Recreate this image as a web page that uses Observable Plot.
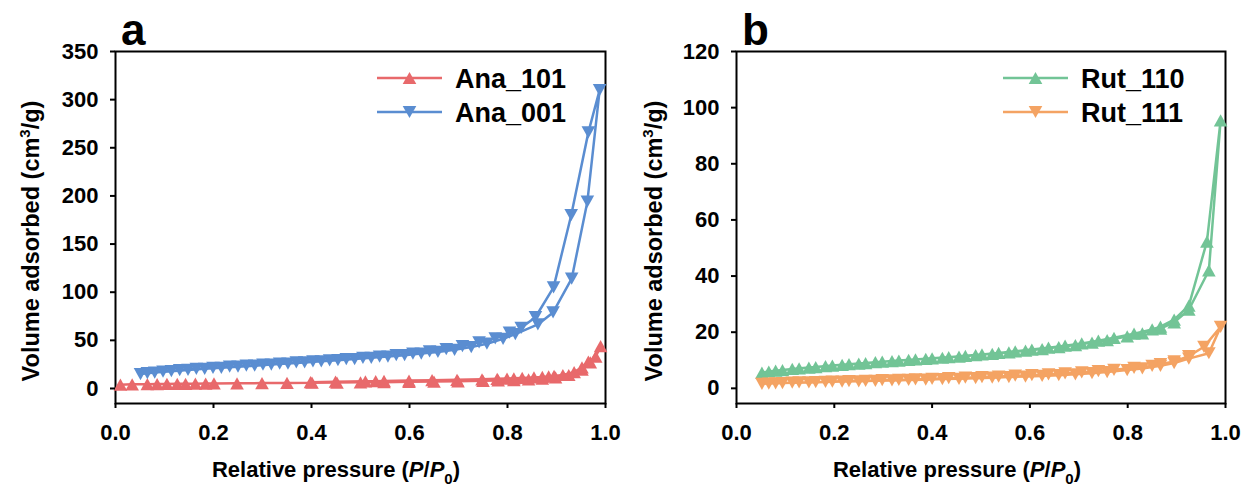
<!DOCTYPE html>
<html><head><meta charset="utf-8">
<script src="https://cdn.jsdelivr.net/npm/d3@7"></script>
<script src="https://cdn.jsdelivr.net/npm/@observablehq/plot@0.6"></script>
<style>
html,body{margin:0;padding:0;background:#fff;}
#wrap{display:flex;width:1247px;height:497px;overflow:hidden;}
svg{display:block;}
</style></head><body><div id="wrap"></div>
<script>
// ---- tick labels ----
const xTicks = [0, 0.2, 0.4, 0.6, 0.8, 1.0];
const yTicksA = [0, 50, 100, 150, 200, 250, 300, 350];
const yTicksB = [0, 20, 40, 60, 80, 100, 120];

// ---- series names / colours ----
const namesA = ["Ana_101", "Ana_001"];
const namesB = ["Rut_110", "Rut_111"];
const colorsA = ["#E8696B", "#5A8DD1"];
const colorsB = ["#72C496", "#F4A363"];

// ---- Ana_101 (adsorption, desorption) ----
const ana101_adsP = [0.010,0.034,0.065,0.085,0.105,0.126,0.143,0.163,0.184,0.201,0.248,0.299,0.350,0.401,0.452,0.500,0.548,0.599,0.650,0.699,0.750,0.781,0.813,0.843,0.871,0.898,0.925,0.952,0.969,0.990];
const ana101_adsV = [4.0,4.3,4.5,4.6,4.7,4.8,4.9,5.0,5.1,5.2,5.4,5.6,5.8,6.0,6.2,6.4,6.6,6.9,7.2,7.5,7.9,8.3,8.8,9.4,10.2,11.5,14.0,19.5,27.0,44.0];
const ana101_desP = [0.980,0.965,0.952,0.936,0.913,0.895,0.884,0.871,0.854,0.830,0.813,0.799,0.779,0.748,0.697,0.646,0.599,0.548,0.531,0.510,0.449,0.398];
const ana101_desV = [33,28,22,17,14,13,12.5,12,11.5,11,10.6,10.3,10,9.5,9.0,8.6,8.2,7.8,7.6,7.4,7.0,6.6];

// ---- Ana_001 ----
const ana001_adsP = [0.051,0.080,0.114,0.148,0.182,0.216,0.250,0.284,0.318,0.352,0.386,0.420,0.454,0.488,0.522,0.556,0.590,0.624,0.658,0.692,0.726,0.758,0.791,0.816,0.862,0.893,0.931,0.963,0.988];
const ana001_adsV = [15.0,16.5,18.0,19.2,20.4,21.5,22.6,23.7,24.8,25.9,27.0,28.2,29.4,30.6,31.9,33.2,34.6,36.2,38.0,40.2,43.0,46.5,51.5,56.5,66.5,79.0,114.0,194.0,310.0];
const ana001_desP = [0.965,0.930,0.894,0.857,0.828,0.804,0.775,0.742,0.708,0.675,0.641,0.607,0.573,0.539,0.505,0.471,0.437,0.403,0.369,0.335,0.301,0.267,0.233,0.199,0.165,0.131,0.097,0.065];
const ana001_desV = [266,180,105,74,63,58,52,48,44,41,38.5,36.3,34.6,33.1,31.8,30.5,29.3,28.1,27.0,25.9,24.8,23.7,22.6,21.5,20.3,19.0,17.6,16.0];

// ---- Rut_110 ----
const rut110_adsP = [0.052,0.080,0.114,0.148,0.182,0.216,0.250,0.284,0.318,0.352,0.387,0.421,0.455,0.489,0.523,0.557,0.591,0.625,0.659,0.693,0.727,0.758,0.799,0.830,0.867,0.895,0.925,0.966,0.990];
const rut110_adsV = [5.6,6.3,6.9,7.4,7.9,8.4,8.8,9.3,9.7,10.1,10.5,10.9,11.3,11.8,12.3,12.8,13.4,14.0,14.7,15.4,16.3,17.2,18.5,19.6,21.3,23.5,28.0,42.0,95.5];
const rut110_desP = [0.962,0.925,0.895,0.867,0.850,0.813,0.772,0.740,0.706,0.672,0.638,0.604,0.570,0.536,0.502,0.468,0.434,0.400,0.366,0.332,0.298,0.264,0.230,0.196,0.162,0.128,0.094,0.066];
const rut110_desV = [52.3,29.5,24.5,22.0,21.0,19.5,18.0,17.0,16.0,15.2,14.5,13.8,13.2,12.6,12.1,11.6,11.1,10.7,10.3,9.9,9.5,9.0,8.6,8.1,7.6,7.1,6.5,6.0];

// ---- Rut_111 ----
const rut111_adsP = [0.052,0.080,0.114,0.148,0.182,0.216,0.250,0.284,0.318,0.352,0.387,0.421,0.455,0.489,0.523,0.557,0.591,0.625,0.659,0.693,0.727,0.758,0.799,0.830,0.867,0.895,0.925,0.966,0.990];
const rut111_adsV = [1.6,1.8,2.0,2.1,2.3,2.4,2.5,2.7,2.8,3.0,3.1,3.3,3.4,3.6,3.8,4.0,4.2,4.4,4.7,5.0,5.4,5.8,6.5,7.1,8.0,9.0,10.6,12.5,21.9];
const rut111_desP = [0.956,0.925,0.895,0.867,0.850,0.813,0.772,0.740,0.706,0.672,0.638,0.604,0.570,0.536,0.502,0.468,0.434,0.400,0.366,0.332,0.298,0.264,0.230,0.196,0.162,0.128,0.094,0.066];
const rut111_desV = [14.8,11.5,9.6,8.6,8.0,7.3,6.6,6.1,5.7,5.3,5.0,4.7,4.5,4.2,4.0,3.8,3.6,3.4,3.2,3.0,2.9,2.7,2.6,2.4,2.2,2.1,1.9,1.7];

// ---- build rows (measurement order: adsorption up, desorption down) ----
function rows(name, aP, aV, dP, dV) {
  const r = [];
  aP.forEach((p, i) => r.push({sample: name, P: p, V: aV[i]}));
  dP.forEach((p, i) => r.push({sample: name, P: p, V: dV[i]}));
  return r;
}
const dataA = [rows(namesA[0], ana101_adsP, ana101_adsV, ana101_desP, ana101_desV),
               rows(namesA[1], ana001_adsP, ana001_adsV, ana001_desP, ana001_desV)];
const dataB = [rows(namesB[0], rut110_adsP, rut110_adsV, rut110_desP, rut110_desV),
               rows(namesB[1], rut111_adsP, rut111_adsV, rut111_desP, rut111_desV)];

// ---- marker shapes ----
const triUp = {draw(ctx, size) { const r = Math.sqrt(size / Math.PI); const w = 1.0 * r, h = 0.9 * r;
  ctx.moveTo(0, -h); ctx.lineTo(w, h); ctx.lineTo(-w, h); ctx.closePath(); }};
const triDown = {draw(ctx, size) { const r = Math.sqrt(size / Math.PI); const w = 1.0 * r, h = 0.9 * r;
  ctx.moveTo(0, h); ctx.lineTo(w, -h); ctx.lineTo(-w, -h); ctx.closePath(); }};
const symbols = [triUp, triDown];
const R = 6.8;
const FONT = '"Liberation Sans", Arial, sans-serif';

function panel(opts) {
  const {data, names, colors, yDomain, yTicks, width, ml, mr, letter, letterX, xLabelX} = opts;
  const marks = [Plot.frame({stroke: "black", strokeWidth: 2})];
  data.forEach((d, i) => {
    marks.push(Plot.line(d, {x: "P", y: "V", stroke: colors[i], strokeWidth: 2.5}));
    marks.push(Plot.dot(d, {x: "P", y: "V", fill: colors[i], symbol: symbols[i], r: R}));
  });
  marks.push(Plot.axisX({ticks: xTicks, tickSize: 5, tickPadding: 16, strokeWidth: 2, label: null, tickFormat: d => d.toFixed(1)}));
  marks.push(Plot.axisY({ticks: yTicks, tickSize: 5, tickPadding: 12, strokeWidth: 2, label: null, tickFormat: d => String(d)}));
  const svg = Plot.plot({
    width, height: 497, marginLeft: ml, marginRight: mr, marginTop: 51, marginBottom: 94,
    x: {domain: [0, 1]},
    y: {domain: yDomain},
    style: {fontFamily: FONT, fontSize: "22px", fontWeight: "bold", color: "black", background: "white", overflow: "visible"},
    marks
  });
  const s = d3.select(svg);
  // panel letter
  s.append("text").attr("x", letterX).attr("y", 45).attr("text-anchor", "start").attr("font-size", 44).attr("font-weight", "bold")
    .attr("font-family", FONT).attr("fill", "black").text(letter);
  // x label
  const xl = s.append("text").attr("x", xLabelX).attr("y", 477).attr("text-anchor", "middle")
    .attr("font-size", 22).attr("font-weight", "bold").attr("font-family", FONT).attr("fill", "black");
  xl.append("tspan").text("Relative pressure (");
  xl.append("tspan").attr("font-style", "italic").text("P");
  xl.append("tspan").text("/");
  xl.append("tspan").attr("font-style", "italic").text("P");
  xl.append("tspan").attr("font-size", 15).attr("dy", 7).text("0");
  xl.append("tspan").attr("dy", -7).text(")");
  // y label
  const yl = s.append("text").attr("transform", "translate(39,241) rotate(-90)").attr("text-anchor", "middle")
    .attr("font-size", 23.5).attr("font-weight", "bold").attr("font-family", FONT).attr("fill", "black");
  yl.append("tspan").text("Volume adsorbed (cm");
  yl.append("tspan").attr("font-size", 15).attr("dy", -9).text("3");
  yl.append("tspan").attr("dy", 9).text("/g)");
  // legend
  const lx0 = opts.legX, rowsY = [78, 112];
  names.forEach((n, i) => {
    const y = rowsY[i];
    s.append("line").attr("x1", lx0).attr("x2", lx0 + 65).attr("y1", y).attr("y2", y)
      .attr("stroke", colors[i]).attr("stroke-width", 2.5);
    s.append("path").attr("d", d3.symbol(symbols[i], Math.PI * R * R)())
      .attr("transform", `translate(${lx0 + 32.5},${y})`).attr("fill", colors[i]);
    s.append("text").attr("x", lx0 + 78).attr("y", y).attr("dy", "0.36em").attr("text-anchor", "start").attr("font-size", 27)
      .attr("font-weight", "bold").attr("font-family", FONT).attr("fill", "black").text(n);
  });
  return svg;
}

const wrap = document.getElementById("wrap");
wrap.appendChild(panel({data: dataA, names: namesA, colors: colorsA, yDomain: [-15.6, 350], yTicks: yTicksA,
  width: 623, ml: 115, mr: 18, letter: "a", letterX: 121, xLabelX: 336, legX: 377}));
wrap.appendChild(panel({data: dataB, names: namesB, colors: colorsB, yDomain: [-5.4, 120], yTicks: yTicksB,
  width: 624, ml: 113, mr: 22, letter: "b", letterX: 119, xLabelX: 334, legX: 380}));
</script></body></html>
